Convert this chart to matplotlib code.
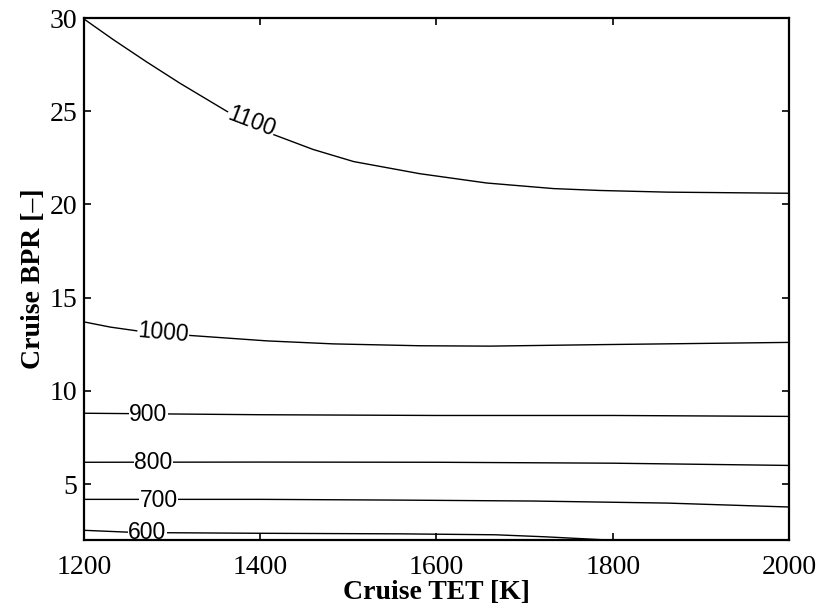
import numpy as np
import matplotlib
matplotlib.use("Agg")
import matplotlib.pyplot as plt

# contour levels (cruise TET [K] vs cruise BPR)
levels = [600, 700, 800, 900, 1000, 1100]

tet_600 = [1200, 1260, 1400, 1559, 1667, 1724, 1794]
bpr_600 = [2.52, 2.40, 2.36, 2.33, 2.28, 2.17, 2.00]

tet_700 = [1200, 1400, 1559, 1710, 1862, 2000]
bpr_700 = [4.18, 4.18, 4.14, 4.09, 3.98, 3.77]

tet_800 = [1200, 1400, 1600, 1800, 2000]
bpr_800 = [6.17, 6.18, 6.17, 6.12, 6.00]

tet_900 = [1200, 1400, 1600, 1800, 2000]
bpr_900 = [8.80, 8.72, 8.68, 8.68, 8.63]

tet_1000 = [1200, 1230, 1260, 1318, 1408, 1483, 1581, 1660, 1786, 2000]
bpr_1000 = [13.7, 13.42, 13.22, 12.98, 12.68, 12.52, 12.42, 12.4, 12.48, 12.6]

tet_1100 = [1200, 1233, 1271, 1309, 1362, 1415, 1460, 1506, 1581, 1657, 1733, 1785, 1862, 2000]
bpr_1100 = [29.95, 28.85, 27.65, 26.5, 25.0, 23.75, 22.95, 22.3, 21.65, 21.15, 20.85, 20.75, 20.66, 20.6]

# label positions (TET, BPR, angle)
lab_tet = [1272, 1285, 1279, 1273, 1290, 1390]
lab_bpr = [2.4, 4.12, 6.15, 8.72, 13.1, 24.45]
lab_rot = [0, 0, 0, 0, -5, -21]

curves = [(tet_600, bpr_600), (tet_700, bpr_700), (tet_800, bpr_800),
          (tet_900, bpr_900), (tet_1000, bpr_1000), (tet_1100, bpr_1100)]

fig = plt.figure(figsize=(8.23, 6.09), dpi=100)
ax = fig.add_axes([0.102, 0.1133, 0.8567, 0.8571])

for (x, y) in curves:
    ax.plot(x, y, color='k', lw=1.0, zorder=1.5)

for i in range(len(levels)):
    ax.text(lab_tet[i], lab_bpr[i], str(levels[i]), rotation=lab_rot[i],
            ha='center', va='center', fontsize=16.5, family='Liberation Sans',
            rotation_mode='anchor', clip_on=True, zorder=2,
            bbox=dict(facecolor='white', edgecolor='none', pad=0.3))

ax.set_xlim(1200, 2000)
ax.set_ylim(2, 30)
ax.set_xticks([1200, 1400, 1600, 1800, 2000])
ax.set_yticks([5, 10, 15, 20, 25, 30])
ax.tick_params(direction='in', top=True, right=True, length=5, width=1.2,
               labelsize=20)
ax.tick_params(axis='x', pad=11)
ax.tick_params(axis='y', pad=5)
for lab in ax.get_xticklabels() + ax.get_yticklabels():
    lab.set_family('Liberation Serif')
for sp in ax.spines.values():
    sp.set_linewidth(1.6)

ax.set_xlabel('Cruise TET [K]', fontsize=20, fontweight='bold',
              family='Liberation Serif', labelpad=0)
ax.set_ylabel('Cruise BPR [\u2013]', fontsize=20, fontweight='bold',
              family='Liberation Serif', labelpad=2)

plt.savefig('out.png', dpi=100)
